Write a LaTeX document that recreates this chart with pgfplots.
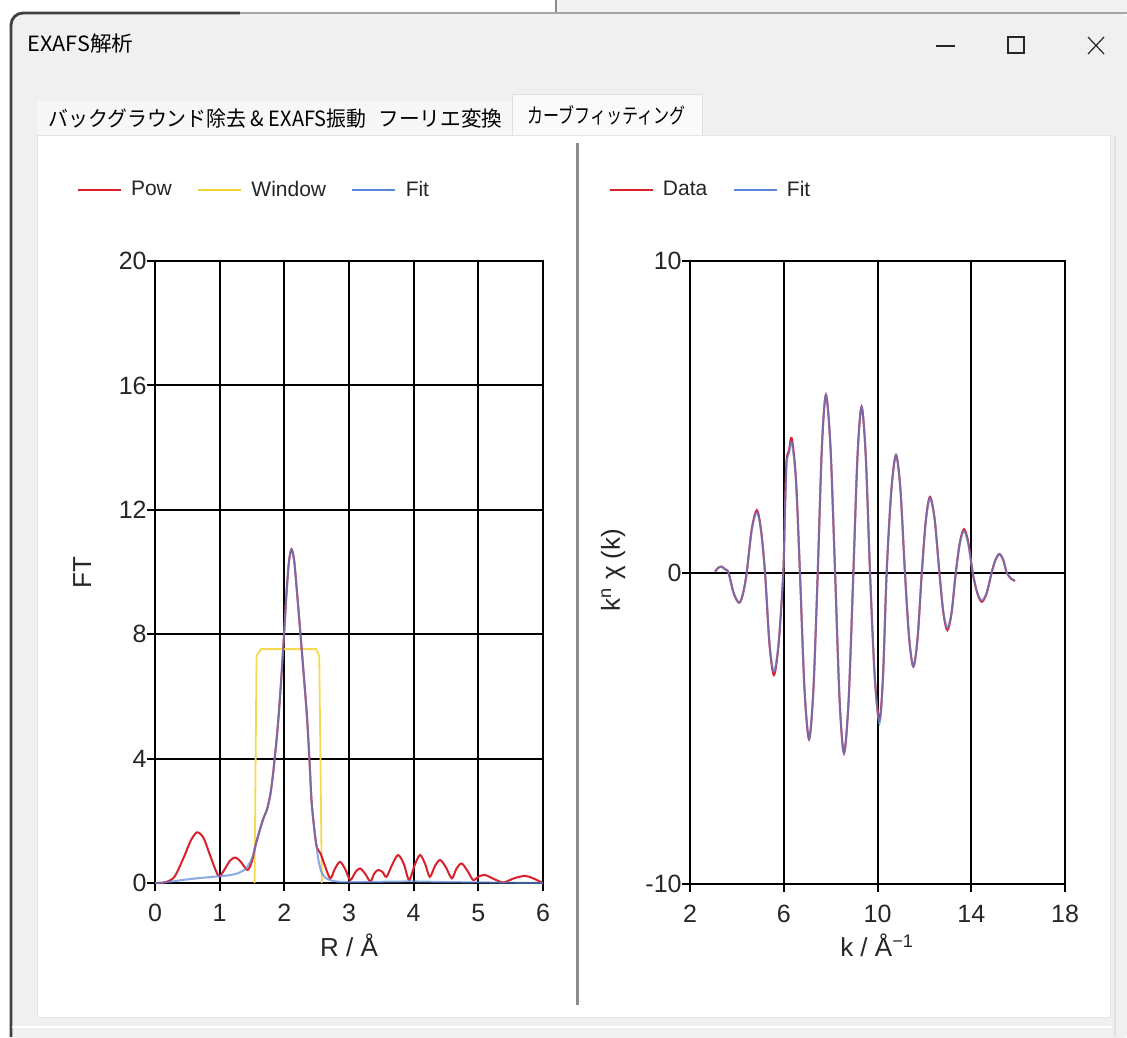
\documentclass[border=0pt]{standalone}
\usepackage{pgfplots}
\pgfplotsset{compat=1.18}
\usepackage{fontspec}
\usepackage{graphicx}
\setmainfont{Liberation Sans}
\newfontfamily\jp{Noto Sans CJK JP}
\definecolor{winbg}{HTML}{F0F0F0}
\definecolor{pred}{HTML}{D9202C}
\definecolor{pyel}{HTML}{F2D232}
\definecolor{pblue}{HTML}{5A86D8}
\definecolor{ticktext}{HTML}{262626}
\definecolor{divgray}{HTML}{8C8C8C}
\pgfplotsset{exafs/.style={
  scale only axis,
  axis line style={black,line width=1pt},
  grid=major,
  grid style={black,line width=1pt},
  tick style={black,line width=1pt},
  tick align=outside,
  major tick length=4pt,
  xtick pos=bottom, ytick pos=left,
  tick label style={font=\fontsize{12.5}{14}\selectfont, text=ticktext},
  /pgf/number format/assume math mode=true,
  label style={font=\fontsize{13}{15}\selectfont, text=ticktext},
  yticklabel style={inner xsep=0pt},
  xticklabel style={inner ysep=6.5pt},
  legend style={draw=none, fill=none, inner xsep=0pt, inner ysep=0pt,
    anchor=west, font=\fontsize{10.5}{12}\selectfont, text=ticktext,
    /tikz/every even column/.append style={column sep=10.5pt},
    /tikz/every odd column/.append style={column sep=2.5pt}},
  legend columns=-1,
  legend image code/.code={\draw[##1,line width=1.3pt] (0pt,0pt) -- (21.5pt,0pt);},
}}
\begin{document}
\begin{tikzpicture}[x=0.5pt,y=-0.5pt]
\useasboundingbox (0,0) rectangle (1127,1037);
% background / window chrome
\fill[white] (0,0) rectangle (1127,1037);
\fill[black!5] (556,0) rectangle (1127,14);
\draw[black!45, line width=0.6pt] (556,0) -- (556,14);
\fill[winbg, rounded corners=6pt] (10,1040) -- (10,13) -- (1130,13) -- (1130,1040) -- cycle;
\draw[black!75, line width=1.4pt, rounded corners=6pt] (11,1037) -- (11,13) -- (240,13);
\draw[black!35, line width=0.6pt] (240,13) -- (1127,13);
\node[anchor=west, inner sep=0pt] at (27,44) {\resizebox{53pt}{\height}{\jp\fontsize{10.5}{12}\selectfont EXAFS解析}};
\draw[black!85, line width=0.6pt] (936,46) -- (955,46);
\draw[black!85, line width=0.6pt] (1008,37) rectangle (1024,53);
\draw[black!85, line width=0.6pt] (1088,37) -- (1104,54) (1104,37) -- (1088,54);
% tabs
\fill[black!3] (38,101) rectangle (512,136);
\fill[white!98!black] (512,95) rectangle (702,137);
\draw[black!12, line width=0.5pt] (512,137) -- (512,95) -- (702,95) -- (702,137);
\node[anchor=west, inner sep=0pt] at (48,119) {\resizebox{159pt}{\height}{\jp\fontsize{10.5}{12}\selectfont バックグラウンド除去 \& EXAFS振動}};
\node[anchor=west, inner sep=0pt] at (378,119) {\resizebox{62pt}{\height}{\jp\fontsize{10.5}{12}\selectfont フーリエ変換}};
\node[anchor=west, inner sep=0pt] at (527,115) {\resizebox{79pt}{\height}{\jp\fontsize{10.5}{12}\selectfont カーブフィッティング}};
% panel
\fill[white] (37,136) rectangle (1110,1017);
\draw[black!10, line width=0.5pt] (37,136) rectangle (1110,1017);
\draw[white, line width=0.8pt] (12,1027) -- (1112,1027);
\draw[black!12, line width=0.6pt] (1115,136) -- (1115,1037);
\draw[divgray, line width=1.5pt] (577,143) -- (577,1005);

% ---------------- left axis ----------------
\begin{axis}[exafs,
  at={(77.5pt,-441.5pt)}, anchor=south west,
  width=194pt, height=311pt,
  xmin=0, xmax=6, ymin=0, ymax=20,
  xtick={0,1,2,3,4,5,6}, ytick={0,4,8,12,16,20},
  xlabel={R / Å}, ylabel={FT},
  xlabel style={at={(axis description cs:0.5,-0.0997)}, anchor=center},
  ylabel style={at={(axis description cs:-0.188,0.499)}, anchor=center},
  legend style={at={(-0.2036,1.114)}},
]
\addlegendimage{pred}\addlegendentry{Pow}
\addlegendimage{pyel}\addlegendentry{Window}
\addlegendimage{pblue}\addlegendentry{Fit}
\addplot[pyel!85!white, line width=0.9pt, forget plot] coordinates {
(1.54,0) (1.57,7.3) (1.64,7.52) (2.49,7.52) (2.54,7.3) (2.58,0)};
\addplot[pred, line width=1pt, smooth, forget plot] table {
0 0
0.15 0.02
0.3 0.2
0.45 0.85
0.55 1.35
0.65 1.63
0.75 1.45
0.85 0.9
0.95 0.35
1.0 0.22
1.08 0.45
1.16 0.72
1.24 0.82
1.32 0.7
1.43 0.42
1.5 0.7
1.55 1.17
1.62 1.7
1.68 2.1
1.73 2.35
1.78 2.8
1.82 3.4
1.85 4.0
1.88 4.6
1.92 5.6
1.96 6.8
1.99 7.8
2.03 9.2
2.07 10.3
2.11 10.73
2.15 10.4
2.19 9.5
2.24 8.24
2.3 6.7
2.35 5.35
2.39 3.9
2.42 2.67
2.46 1.8
2.5 1.17
2.56 0.95
2.62 0.6
2.71 0.15
2.78 0.45
2.86 0.68
2.94 0.45
3.02 0.1
3.1 0.35
3.17 0.47
3.25 0.3
3.33 0.05
3.39 0.3
3.45 0.42
3.52 0.35
3.58 0.2
3.67 0.6
3.76 0.9
3.85 0.6
3.93 0.1
4.02 0.6
4.10 0.9
4.18 0.6
4.25 0.2
4.33 0.55
4.41 0.74
4.5 0.5
4.59 0.15
4.66 0.45
4.74 0.63
4.83 0.4
4.92 0.1
5.0 0.2
5.10 0.26
5.25 0.12
5.39 0.02
5.55 0.15
5.72 0.23
5.85 0.15
6.0 0.0
};
\addplot[pblue, line width=1pt, smooth, opacity=0.7, forget plot] table {
0 0
0.2 0.03
0.4 0.09
0.6 0.14
0.8 0.18
1.0 0.22
1.15 0.25
1.26 0.3
1.35 0.38
1.42 0.5
1.5 0.8
1.55 1.17
1.62 1.7
1.68 2.1
1.73 2.35
1.78 2.8
1.82 3.4
1.85 4.0
1.88 4.6
1.92 5.6
1.96 6.8
1.99 7.8
2.03 9.2
2.07 10.3
2.11 10.73
2.15 10.4
2.19 9.5
2.24 8.24
2.3 6.7
2.35 5.35
2.39 3.9
2.42 2.67
2.46 1.8
2.5 1.17
2.53 0.7
2.57 0.38
2.62 0.2
2.7 0.1
2.8 0.05
3.0 0.03
3.5 0.04
4.0 0.05
4.5 0.03
5.0 0.02
5.5 0.01
6.0 0
};
\end{axis}

% ---------------- right axis ----------------
\begin{axis}[exafs,
  at={(345pt,-442pt)}, anchor=south west,
  width=187.5pt, height=311.5pt,
  xmin=2, xmax=18, ymin=-10, ymax=10,
  xtick={2,6,10,14,18}, ytick={-10,0,10},
  xlabel={k / Å\textsuperscript{−1}}, ylabel={k\textsuperscript{n} χ (k)},
  xlabel style={at={(axis description cs:0.499,-0.098)}, anchor=center},
  ylabel style={at={(axis description cs:-0.205,0.504)}, anchor=center},
  legend style={at={(-0.2187,1.114)}},
]
\addlegendimage{pred}\addlegendentry{Data}
\addlegendimage{pblue}\addlegendentry{Fit}
\addplot[pred, line width=1pt, smooth, forget plot] table {
3.07 0.03
3.2 0.15
3.35 0.19
3.5 0.1
3.64 0
3.87 -0.68
4.10 -0.97
4.26 -0.68
4.42 0
4.635 1.4
4.85 2.0
5.025 1.4
5.2 0
5.39 -2.3
5.58 -3.29
5.78 -2.3
5.98 0
6.05 2.0
6.12 3.6
6.22 3.9
6.34 4.31
6.52 3.0
6.69 0
6.885 -3.75
7.08 -5.35
7.265 -3.75
7.45 0
7.625 4.0
7.80 5.70
7.995 4.0
8.19 0
8.38 -4.06
8.57 -5.80
8.77 -4.06
8.97 0
9.145 3.72
9.32 5.32
9.50 3.72
9.68 0
9.88 -3.31
10.08 -4.73
10.235 -3.31
10.39 0
10.59 2.64
10.79 3.77
10.98 2.64
11.17 0
11.35 -2.11
11.53 -3.02
11.71 -2.11
11.89 0
12.065 1.70
12.24 2.43
12.44 1.70
12.64 0
12.81 -1.30
12.98 -1.85
13.16 -1.30
13.34 0
13.515 0.97
13.69 1.39
13.875 0.97
14.06 0
14.255 -0.66
14.45 -0.94
14.66 -0.66
14.87 0
15.035 0.41
15.20 0.59
15.36 0.41
15.51 0
15.7 -0.2
15.87 -0.27
};
\addplot[pblue, line width=1pt, smooth, opacity=0.7, forget plot] table {
3.07 0.03
3.2 0.15
3.35 0.18
3.5 0.1
3.64 0
3.87 -0.68
4.10 -0.97
4.26 -0.68
4.42 0
4.635 1.36
4.85 1.93
5.025 1.36
5.2 0
5.39 -2.25
5.58 -3.18
5.78 -2.25
5.98 0
6.05 1.95
6.12 3.5
6.22 3.82
6.34 4.18
6.52 2.95
6.69 0
6.885 -3.75
7.08 -5.35
7.265 -3.75
7.45 0
7.625 4.0
7.80 5.70
7.995 4.0
8.19 0
8.38 -4.06
8.57 -5.80
8.77 -4.06
8.97 0
9.145 3.72
9.32 5.32
9.50 3.72
9.68 0
9.88 -3.38
10.08 -4.85
10.235 -3.38
10.39 0
10.59 2.64
10.79 3.77
10.98 2.64
11.17 0
11.35 -2.11
11.53 -3.02
11.71 -2.11
11.89 0
12.065 1.68
12.24 2.4
12.44 1.68
12.64 0
12.81 -1.26
12.98 -1.78
13.16 -1.26
13.34 0
13.515 0.94
13.69 1.33
13.875 0.9
14.06 0
14.255 -0.64
14.45 -0.9
14.66 -0.64
14.87 0
15.035 0.42
15.20 0.6
15.36 0.42
15.51 0
15.7 -0.19
15.87 -0.26
};
\end{axis}
\end{tikzpicture}
\end{document}
